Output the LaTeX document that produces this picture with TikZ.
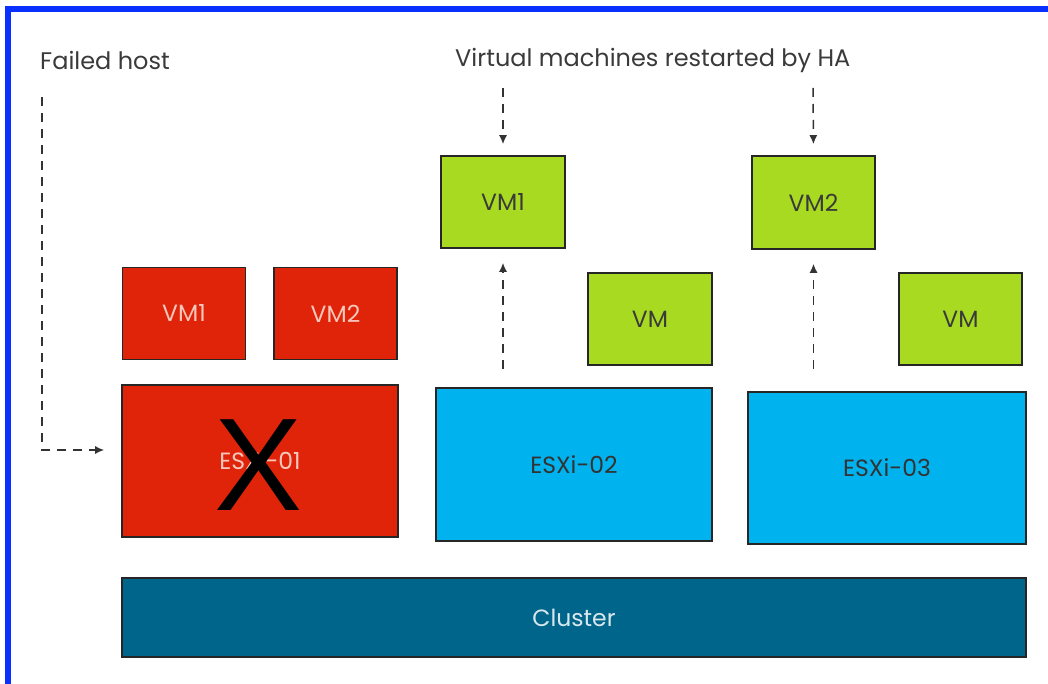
\documentclass[tikz,border=0pt]{standalone}
\usepackage{fontspec}
\setmainfont{Poppins}
\newfontfamily\xfont{Liberation Sans}
\usetikzlibrary{arrows.meta,calc}
\definecolor{frameblue}{HTML}{0A30FF}
\definecolor{vmred}{HTML}{E0240A}
\definecolor{vmgreen}{HTML}{A8DA22}
\definecolor{esxblue}{HTML}{00B3EF}
\definecolor{clusterblue}{HTML}{00658A}
\definecolor{txtgrey}{HTML}{3A3A3A}
\definecolor{redtxt}{HTML}{F6C8BC}
\tikzset{
  box/.style={draw=black!85, line width=1.6pt, inner sep=0pt, font=\fontsize{23.5}{26}\selectfont},
  redbox/.style={box, fill=vmred, text=redtxt},
  greenbox/.style={box, fill=vmgreen, text=txtgrey},
  esxbox/.style={box, fill=esxblue, text=black!80},
  clusterbox/.style={box, fill=clusterblue, text=white!85!clusterblue},
  label/.style={anchor=west, inner sep=0pt, text=txtgrey, font=\fontsize{24}{27}\selectfont},
  dasharrow/.style={draw=black!80, line width=1.5pt, dash pattern=on 9pt off 7pt, -{Latex[length=9pt,width=8pt]}}
}
\begin{document}
\begin{tikzpicture}[x=1pt,y=-1pt]
\useasboundingbox (0,0) rectangle (1048,684);
% frame
\draw[frameblue, line width=6pt] (8,684) -- (8,9) -- (1048,9);
% labels
\node[label] (fh) at (40,60) {Failed host};
\node[label] (vmr) at (455,60) {Virtual machines restarted by HA};
% failed host boxes
\node[redbox, minimum width=123pt, minimum height=92pt] (rvm1) at (184,313.5) {VM1};
\node[redbox, minimum width=123pt, minimum height=92pt] (rvm2) at (335.5,313.5) {VM2};
\node[redbox, minimum width=276pt, minimum height=152pt] (esx1) at (260,461) {ESXi-01};
\node[inner sep=0pt, font=\xfont\fontsize{132}{132}\selectfont, text=black] (xmark) at (259,465) {X};
% other hosts
\node[esxbox, minimum width=276pt, minimum height=153pt] (esx2) at (574,464.5) {ESXi-02};
\node[esxbox, minimum width=278pt, minimum height=152pt] (esx3) at (887,468) {ESXi-03};
\node[clusterbox, minimum width=904pt, minimum height=79pt] (cluster) at (574,617.5) {Cluster};
% green VMs
\node[greenbox, minimum width=124pt, minimum height=92pt] (gvm1) at (503,202) {VM1};
\node[greenbox, minimum width=124pt, minimum height=92pt] (gvm) at (650,319) {VM};
\node[greenbox, minimum width=123pt, minimum height=93pt] (gvm2) at (813.5,202.5) {VM2};
\node[greenbox, minimum width=123pt, minimum height=92pt] (gvmr) at (960.5,319) {VM};
% coordinates
\coordinate (fhtop) at (42,97);
\coordinate (d1top) at (503,88);
\coordinate (d2top) at (813,88);
% connectors
\draw[dasharrow, shorten >=17pt] (fhtop) |- ($(esx1.west)+(0,-11)$);
\draw[dasharrow, shorten >=11pt] (d1top) -- (gvm1.north);
\draw[dasharrow, shorten >=11pt] (d2top) -- (gvm2.north);
\draw[dasharrow, shorten <=18pt, shorten >=14pt] (esx2.north -| gvm1.south) -- (gvm1.south);
\draw[dasharrow, shorten <=22pt, shorten >=14pt] (esx3.north -| gvm2.south) -- (gvm2.south);
\end{tikzpicture}
\end{document}
